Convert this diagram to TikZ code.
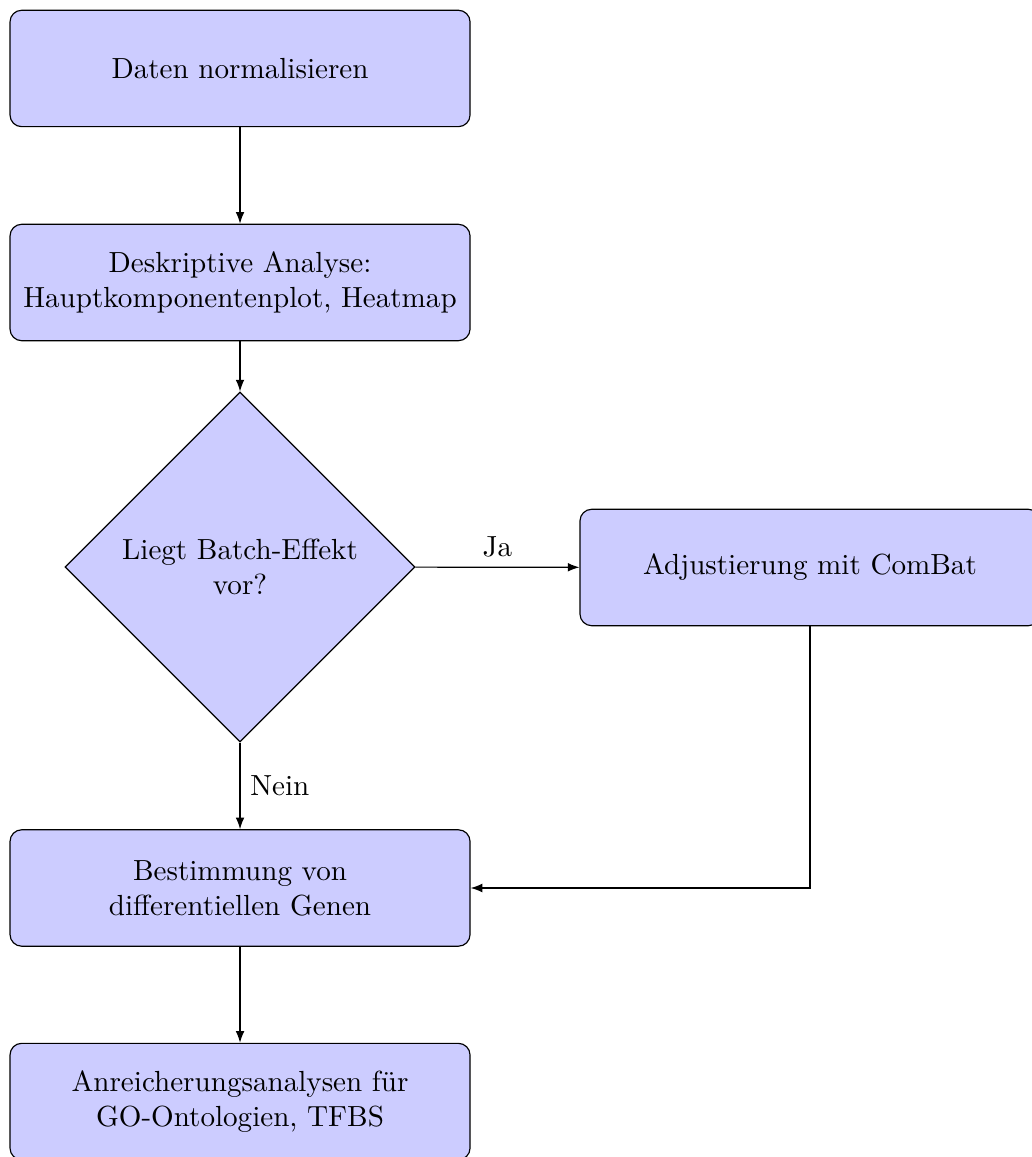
\documentclass[tikz,border=0pt]{standalone}
\usetikzlibrary{shapes.geometric,arrows.meta}

\begin{document}
\begin{tikzpicture}[
    block/.style={rectangle, draw, fill=blue!20, rounded corners, align=center,
      minimum width=5.556cm, minimum height=4em},
    decision/.style={diamond, draw, fill=blue!20, align=center, aspect=1,
      inner sep=0pt, minimum width=4.227cm, minimum height=4.227cm},
    line/.style={draw, -{Latex[length=4pt,width=3pt]}}
  ]
        \useasboundingbox (0, 0) rectangle (12.464, -13.974);
        \node[block] (norm) at (2.899, -0.827) {Daten normalisieren};
        \node[block] (desk) at (2.899, -3.412) {Deskriptive Analyse:\\Hauptkomponentenplot, Heatmap};
        \node[decision] (batch) at (2.899, -6.848) {Liegt Batch-Effekt\\vor?};
        \node[block] (combat) at (9.783, -6.854) {Adjustierung mit ComBat};
        \node[block] (diff) at (2.899, -10.725) {Bestimmung von\\differentiellen Genen};
        \node[block] (enrich) at (2.899, -13.304) {Anreicherungsanalysen f\"ur\\GO-Ontologien, TFBS};
        \path[line] (norm) -- (desk);
        \path[line] (desk) -- (batch);
        \path[line] (batch) -- node[midway, above] {Ja} (combat);
        \path[line] (batch) -- node[midway, right] {Nein} (diff);
        \path[line] (combat) |- (diff);
        \path[line] (diff) -- (enrich);
      \end{tikzpicture}
\end{document}
